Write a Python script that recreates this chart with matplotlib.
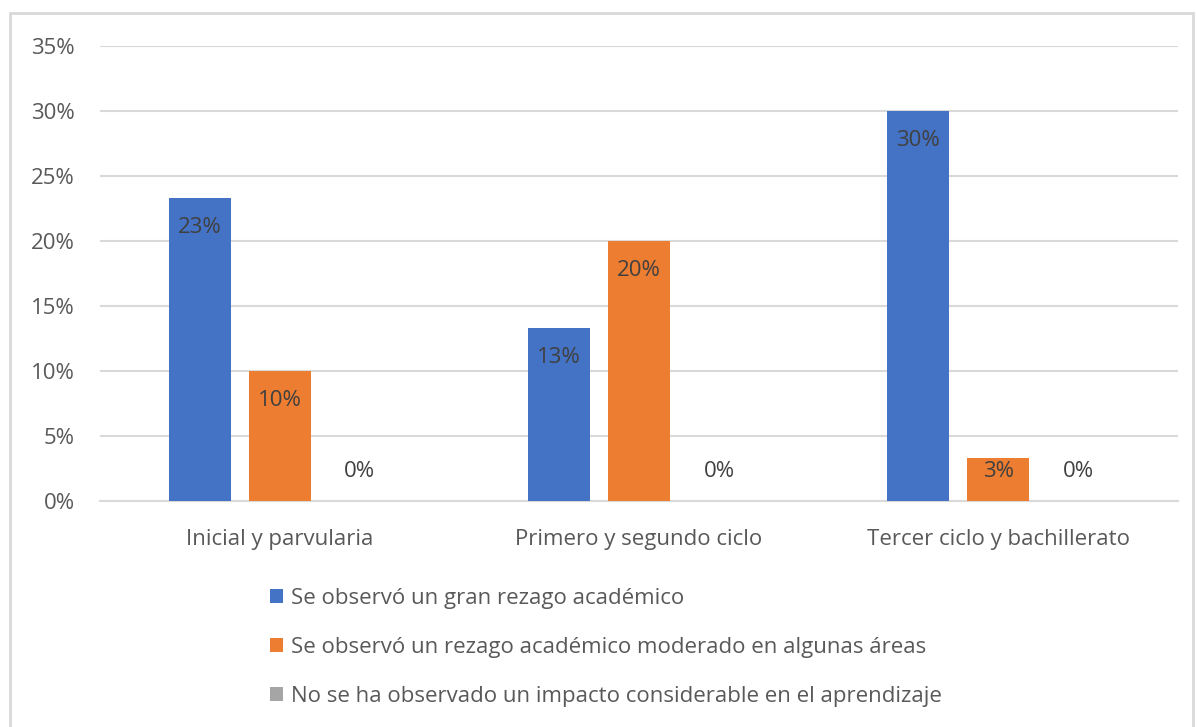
import numpy as np
import matplotlib.pyplot as plt
from matplotlib.patches import Rectangle

categorias = ['Inicial y parvularia', 'Primero y segundo ciclo', 'Tercer ciclo y bachillerato']
gran_rezago = [23.3, 13.3, 30.0]
rezago_moderado = [10.0, 20.0, 3.3]
sin_impacto = [0.0, 0.0, 0.0]
series = ['Se observó un gran rezago académico',
          'Se observó un rezago académico moderado en algunas áreas',
          'No se ha observado un impacto considerable en el aprendizaje']
colores = ['#4472c4', '#ed7d31', '#a5a5a5']

plt.rcParams['font.family'] = ['Open Sans', 'DejaVu Sans']
txt = '#595959'
fs = 16

fig = plt.figure(figsize=(11.97, 7.27), dpi=100)
ax = fig.add_axes([0.0835, 0.3109, 0.9006, 0.6258])

x = np.arange(len(categorias))
w = 0.1727
paso = 0.2228
barras = []
for i, (vals, col, nom) in enumerate(zip([gran_rezago, rezago_moderado, sin_impacto], colores, series)):
    b = ax.bar(x + (i - 1) * paso, vals, w, color=col, label=nom, zorder=3)
    barras.append(b)
    for xi, v in zip(x + (i - 1) * paso, vals):
        ax.text(xi, max(v - 2.25, 2.3), '%d%%' % round(v), ha='center', va='center',
                fontsize=fs, color='#404040', zorder=4)

ax.set_xlim(-0.5, 2.5)
ax.set_ylim(0, 35)
ax.set_yticks(np.arange(0, 36, 5))
ax.set_yticklabels(['%d%%' % t for t in range(0, 36, 5)])
ax.set_xticks(x)
ax.set_xticklabels(categorias)
ax.tick_params(length=0, labelsize=fs, labelcolor=txt)
ax.tick_params(axis='y', pad=18)
ax.tick_params(axis='x', pad=20)
ax.grid(axis='y', color='#d9d9d9', linewidth=1.5, zorder=0)
for s in ['top', 'right', 'left']:
    ax.spines[s].set_visible(False)
ax.spines['bottom'].set_color('#d9d9d9')
ax.spines['bottom'].set_linewidth(1.5)

leg = fig.legend(handles=barras, loc='upper left', bbox_to_anchor=(250 / 1197, 1 - 568 / 727),
                 frameon=False, fontsize=fs, handlelength=0.6, handleheight=0.6,
                 handletextpad=0.35, labelspacing=1.25)
for t in leg.get_texts():
    t.set_color(txt)

fig.patches.append(Rectangle((10 / 1197, -0.01), 1183 / 1197, 1 - 13 / 727 + 0.01,
                             transform=fig.transFigure, fill=False,
                             edgecolor='#d9d9d9', linewidth=2))

fig.savefig('out.png', dpi=100)
